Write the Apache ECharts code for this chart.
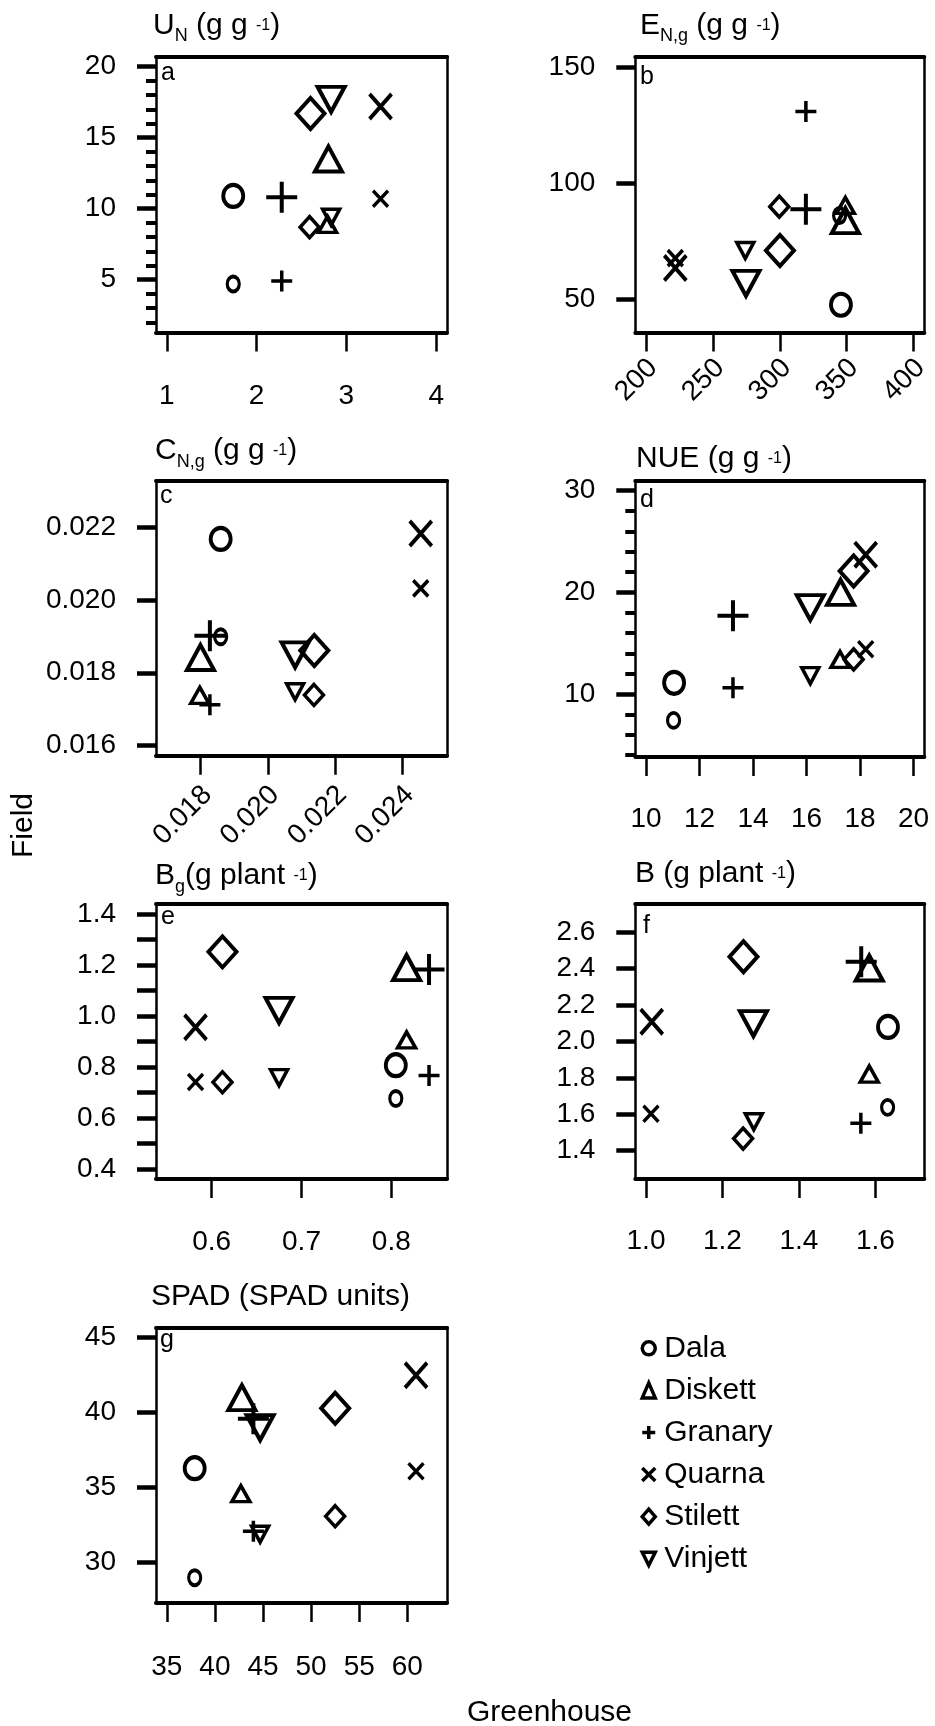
<!DOCTYPE html>
<html>
<head>
<meta charset="utf-8">
<script src="https://cdn.jsdelivr.net/npm/echarts@6/dist/echarts.min.js"></script>
<style>
  html, body { margin: 0; padding: 0; background: #fff; }
  #chart { width: 935px; height: 1726px; }
</style>
</head>
<body>
<div id="chart"></div>
<script>
// cultivar order is the same in every array below
const cultivars = ['Dala', 'Diskett', 'Granary', 'Quarna', 'Stilett', 'Vinjett'];

// [greenhouse, field] per cultivar, "big" = large symbols, "small" = small symbols
const uN_big = [[1.74, 10.9], [2.80, 13.5], [2.28, 10.8], [3.38, 17.2], [2.60, 16.7], [2.83, 17.7]];
const uN_small = [[1.74, 4.7], [2.79, 8.9], [2.28, 4.9], [3.38, 10.7], [2.59, 8.7], [2.83, 9.4]];
const uN_xTicks = [1, 2, 3, 4];
const uN_yTicks = [5, 10, 15, 20];
const uN_yMinor = [2, 3, 4, 6, 7, 8, 9, 11, 12, 13, 14, 16, 17, 18, 19];

const eNg_big = [[345.7, 47.6], [349, 83.9], [319.5, 88.8], [221.9, 63.4], [300.1, 71.0], [274.7, 56.8]];
const eNg_small = [[344.7, 86.1], [349, 90.4], [319.5, 130.9], [221.9, 67.7], [299.6, 89.9], [274.2, 71.0]];
const eNg_xTicks = [200, 250, 300, 350, 400];
const eNg_yTicks = [50, 100, 150];

const cNg_big = [[0.01860, 0.02168], [0.01800, 0.01842], [0.01828, 0.01902], [0.02454, 0.02183], [0.02138, 0.01861], [0.02081, 0.01849]];
const cNg_small = [[0.01860, 0.01899], [0.01798, 0.01738], [0.01828, 0.01712], [0.02454, 0.02032], [0.02137, 0.01739], [0.02081, 0.01748]];
const cNg_xTicks = [0.018, 0.020, 0.022, 0.024];
const cNg_yTicks = [0.016, 0.018, 0.020, 0.022];

const nue_big = [[11.05, 11.1], [17.27, 20.0], [13.25, 17.7], [18.21, 23.7], [17.76, 22.1], [16.14, 18.5]];
const nue_small = [[11.03, 7.4], [17.25, 13.4], [13.25, 10.6], [18.21, 14.4], [17.76, 13.4], [16.14, 11.8]];
const nue_xTicks = [10, 12, 14, 16, 18, 20];
const nue_yTicks = [10, 20, 30];
const nue_yMinor = [4, 6, 8, 12, 14, 16, 18, 22, 24, 26, 28];

const bg_big = [[0.805, 0.807], [0.817, 1.19], [0.842, 1.183], [0.582, 0.956], [0.612, 1.252], [0.675, 1.022]];
const bg_small = [[0.805, 0.676], [0.817, 0.906], [0.842, 0.766], [0.582, 0.741], [0.612, 0.740], [0.675, 0.758]];
const bg_xTicks = [0.6, 0.7, 0.8];
const bg_yTicks = [0.4, 0.5, 0.6, 0.7, 0.8, 0.9, 1.0, 1.1, 1.2, 1.3, 1.4];
const bg_yLabels = [0.4, 0.6, 0.8, 1.0, 1.2, 1.4];

const b_big = [[1.633, 2.080], [1.584, 2.404], [1.563, 2.439], [1.015, 2.109], [1.255, 2.466], [1.281, 2.098]];
const b_small = [[1.632, 1.638], [1.584, 1.821], [1.562, 1.550], [1.013, 1.603], [1.254, 1.466], [1.282, 1.559]];
const b_xTicks = [1.0, 1.2, 1.4, 1.6];
const b_yTicks = [1.4, 1.6, 1.8, 2.0, 2.2, 2.4, 2.6];

const spad_big = [[37.9, 36.3], [42.8, 41.0], [44.0, 39.6], [60.9, 42.5], [52.5, 40.3], [44.7, 39.0]];
const spad_small = [[37.9, 29.0], [42.7, 34.6], [44.0, 32.1], [60.9, 36.1], [52.5, 33.1], [44.7, 31.9]];
const spad_xTicks = [35, 40, 45, 50, 55, 60];
const spad_yTicks = [30, 35, 40, 45];

const FONT = '"Liberation Sans", Arial, sans-serif';

// symbols: circle, triangle, plus, cross, diamond, inverted triangle
const PLUS = 'path://M0,5L10,5M5,0L5,10';
const CROSS = 'path://M0,0L10,10M0,10L10,0';
const symbols = ['circle', 'triangle', PLUS, CROSS, 'diamond', 'triangle'];
const rotates = [0, 0, 0, 0, 0, 180];
const legendIcons = ['circle', 'triangle', PLUS, CROSS, 'diamond', 'path://M0,0L10,0L5,10Z'];
const bigSize = [[20, 22], [27, 25], [31, 31], [22, 25], [28, 31], [27, 25]];
const smallSize = [[12, 15], [18, 16], [21, 21], [15, 16], [19, 21], [17, 16]];

const panels = [
  { letter: 'a', big: uN_big, small: uN_small, grid: [156, 56.5, 291, 276],
    xRange: [0.88, 4.12], yRange: [1.28, 20.72], xTicks: uN_xTicks, yTicks: uN_yTicks, yMinor: uN_yMinor,
    xDec: 0, yDec: 0, rotate: 0, xMargin: 50,
    title: '{m|U}{s|N}{m| (g g }{p|-1}{m|)}', titlePos: [153, 25.5], letterPos: [161, 73] },
  { letter: 'b', big: eNg_big, small: eNg_small, grid: [635.3, 57, 289, 275.6],
    xRange: [192, 408], yRange: [35.6, 154.4], xTicks: eNg_xTicks, yTicks: eNg_yTicks,
    xDec: 0, yDec: 0, rotate: 45, xMargin: 38,
    title: '{m|E}{s|N,g}{m| (g g }{p|-1}{m|)}', titlePos: [640, 25.5], letterPos: [640, 77] },
  { letter: 'c', big: cNg_big, small: cNg_small, grid: [156, 480.7, 291, 275],
    xRange: [0.01668, 0.02532], yRange: [0.01572, 0.02328], xTicks: cNg_xTicks, yTicks: cNg_yTicks,
    xDec: 3, yDec: 3, rotate: 45, xMargin: 42,
    title: '{m|C}{s|N,g}{m| (g g }{p|-1}{m|)}', titlePos: [155, 451], letterPos: [160, 496] },
  { letter: 'd', big: nue_big, small: nue_small, grid: [635.3, 480.5, 289, 276.6],
    xRange: [9.6, 20.4], yRange: [3.79, 31.0], xTicks: nue_xTicks, yTicks: nue_yTicks, yMinor: nue_yMinor,
    xDec: 0, yDec: 0, rotate: 0, xMargin: 48,
    title: '{m|NUE (g g }{p|-1}{m|)}', titlePos: [636, 459], letterPos: [640, 500] },
  { letter: 'e', big: bg_big, small: bg_small, grid: [156, 904, 291, 275],
    xRange: [0.538, 0.862], yRange: [0.36, 1.44], xTicks: bg_xTicks, yTicks: bg_yTicks, yLabels: bg_yLabels,
    xDec: 1, yDec: 1, rotate: 0, xMargin: 49,
    title: '{m|B}{s|g}{m|(g plant }{p|-1}{m|)}', titlePos: [155, 876], letterPos: [161, 917] },
  { letter: 'f', big: b_big, small: b_small, grid: [635.3, 904, 289, 275],
    xRange: [0.972, 1.728], yRange: [1.244, 2.756], xTicks: b_xTicks, yTicks: b_yTicks,
    xDec: 1, yDec: 1, rotate: 0, xMargin: 48,
    title: '{m|B (g plant }{p|-1}{m|)}', titlePos: [635, 874], letterPos: [643, 926] },
  { letter: 'g', big: spad_big, small: spad_small, grid: [156, 1327.5, 291, 275.4],
    xRange: [33.88, 64.12], yRange: [27.32, 45.68], xTicks: spad_xTicks, yTicks: spad_yTicks,
    xDec: 0, yDec: 0, rotate: 0, xMargin: 50,
    title: '{m|SPAD (SPAD units)}', titlePos: [151, 1297], letterPos: [160, 1340] }
];

const titleRich = {
  m: { fontFamily: FONT, fontSize: 30, lineHeight: 40, verticalAlign: 'middle', color: '#000' },
  s: { fontFamily: FONT, fontSize: 18, lineHeight: 17, verticalAlign: 'bottom', color: '#000' },
  p: { fontFamily: FONT, fontSize: 16, lineHeight: 16, verticalAlign: 'middle', color: '#000' }
};

const grids = [], xAxes = [], yAxes = [], series = [], graphics = [];

panels.forEach((p, pi) => {
  grids.push({ left: p.grid[0], top: p.grid[1], width: p.grid[2], height: p.grid[3],
    containLabel: false, outerBoundsMode: 'none' });

  const xi = xAxes.length;
  xAxes.push({
    type: 'value', gridIndex: pi, position: 'bottom', min: p.xRange[0], max: p.xRange[1],
    axisLine: { show: true, onZero: false, lineStyle: { color: '#000', width: 4 } },
    axisTick: { show: true, customValues: p.xTicks, length: 19, lineStyle: { color: '#000', width: 2.5 } },
    axisLabel: { show: true, customValues: p.xTicks, margin: p.xMargin, rotate: p.rotate,
      padding: p.rotate ? [0, -10, 0, 0] : 0,
      formatter: v => v.toFixed(p.xDec), color: '#000', fontFamily: FONT, fontSize: 28, lineHeight: 28 },
    splitLine: { show: false }
  });
  xAxes.push({
    type: 'value', gridIndex: pi, position: 'top', min: p.xRange[0], max: p.xRange[1],
    axisLine: { show: true, onZero: false, lineStyle: { color: '#000', width: 4 } },
    axisTick: { show: false }, axisLabel: { show: false }, splitLine: { show: false }
  });

  const yi = yAxes.length;
  yAxes.push({
    type: 'value', gridIndex: pi, position: 'left', min: p.yRange[0], max: p.yRange[1],
    axisLine: { show: true, onZero: false, lineStyle: { color: '#000', width: 2.5 } },
    axisTick: { show: true, customValues: p.yTicks, length: 19, lineStyle: { color: '#000', width: 4.5 } },
    axisLabel: { show: true, customValues: p.yLabels || p.yTicks, margin: 40,
      formatter: v => v.toFixed(p.yDec), color: '#000', fontFamily: FONT, fontSize: 28 },
    splitLine: { show: false }
  });
  yAxes.push({
    type: 'value', gridIndex: pi, position: 'right', min: p.yRange[0], max: p.yRange[1],
    axisLine: { show: true, onZero: false, lineStyle: { color: '#000', width: 2.5 } },
    axisTick: { show: false }, axisLabel: { show: false }, splitLine: { show: false }
  });
  if (p.yMinor) {
    yAxes.push({
      type: 'value', gridIndex: pi, position: 'left', min: p.yRange[0], max: p.yRange[1],
      axisLine: { show: false },
      axisTick: { show: true, customValues: p.yMinor, length: 10, lineStyle: { color: '#000', width: 4 } },
      axisLabel: { show: false }, splitLine: { show: false }
    });
  }

  cultivars.forEach((name, ci) => {
    series.push({
      type: 'scatter', name: name, xAxisIndex: xi, yAxisIndex: yi,
      symbol: symbols[ci], symbolRotate: rotates[ci],
      itemStyle: { color: 'rgba(0,0,0,0)', borderColor: '#000', borderWidth: 3.5, opacity: 1 },
      data: [
        { value: p.big[ci], symbolSize: bigSize[ci], itemStyle: { borderWidth: 4 } },
        { value: p.small[ci], symbolSize: smallSize[ci], itemStyle: { borderWidth: 3.5 } }
      ],
      emphasis: { disabled: true }, silent: true
    });
  });

  graphics.push({ type: 'text', x: p.titlePos[0], y: p.titlePos[1], silent: true,
    style: { text: p.title, rich: titleRich, align: 'left', verticalAlign: 'middle',
      fontFamily: FONT, fontSize: 30, fill: '#000' } });
  graphics.push({ type: 'text', x: p.letterPos[0], y: p.letterPos[1], silent: true,
    style: { text: p.letter, align: 'left', verticalAlign: 'middle',
      fontFamily: FONT, fontSize: 25, fill: '#000' } });
});

graphics.push({ type: 'text', x: 24, y: 825.5, rotation: Math.PI / 2, silent: true,
  style: { text: 'Field', align: 'center', verticalAlign: 'middle', fontFamily: FONT, fontSize: 30, fill: '#000' } });
graphics.push({ type: 'text', x: 549.5, y: 1712.5, silent: true,
  style: { text: 'Greenhouse', align: 'center', verticalAlign: 'middle', fontFamily: FONT, fontSize: 30, fill: '#000' } });

const chart = echarts.init(document.getElementById('chart'), null, { renderer: 'canvas' });
chart.setOption({
  animation: false,
  backgroundColor: '#fff',
  textStyle: { fontFamily: FONT },
  grid: grids,
  xAxis: xAxes,
  yAxis: yAxes,
  legend: {
    data: cultivars.map((name, i) => ({ name: name, icon: legendIcons[i] })),
    orient: 'vertical', left: 640.5, top: 1333.3, padding: 0,
    itemWidth: 13, itemHeight: 15, itemGap: 12.1, selectedMode: false,
    textStyle: { fontFamily: FONT, fontSize: 30, lineHeight: 30, color: '#000', padding: [0, 0, 0, 4] },
    itemStyle: { color: 'rgba(0,0,0,0)', borderColor: '#000', borderWidth: 3.5, opacity: 1 }
  },
  series: series,
  graphic: graphics
});
</script>
</body>
</html>
